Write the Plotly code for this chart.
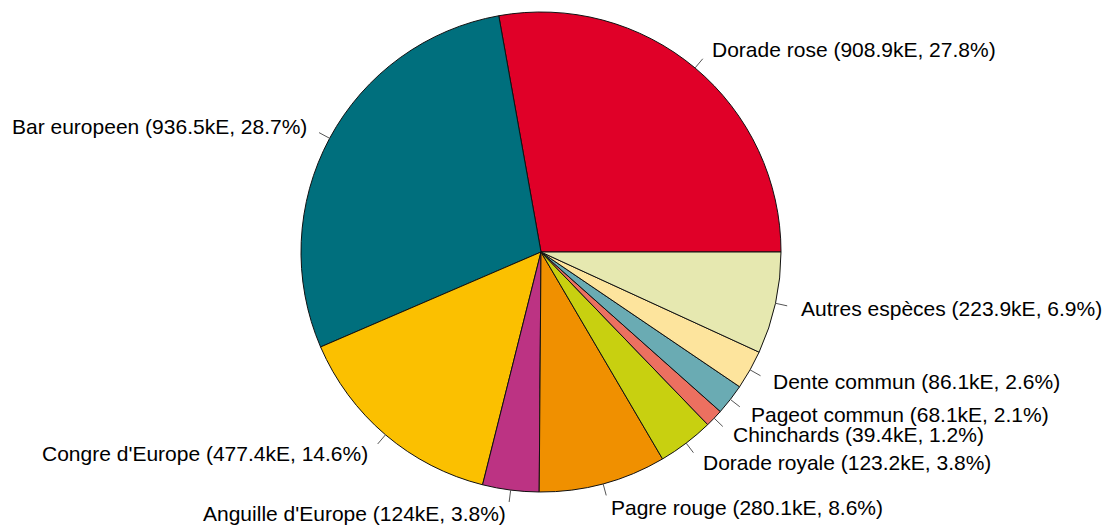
import math
import plotly.graph_objects as go

# species and values (kE), in R pie order (counter-clockwise from 3 o'clock)
especes = ["Dorade rose", "Bar europeen", "Congre d'Europe", "Anguille d'Europe",
           "Pagre rouge", "Dorade royale", "Chinchards", "Pageot commun",
           "Dente commun", "Autres espèces"]
valeurs = [908.9, 936.5, 477.4, 124, 280.1, 123.2, 39.4, 68.1, 86.1, 223.9]
couleurs = ["#E00028", "#006F7D", "#FBC000", "#BC3383", "#F09000",
            "#C8D010", "#EC7060", "#6AABB3", "#FDE49D", "#E6E8B0"]

W, H = 1112, 525
# page body has an 8px margin, so positions are shifted back by 8px
cx, cy, R = 533, 244, 240

total = sum(valeurs)
# plotly places the first slice clockwise from 'rotation' when counterclockwise,
# so shift it to make the first slice start at 3 o'clock like R
rot = 90 - 360 * valeurs[0] / total

fig = go.Figure(go.Pie(
    values=valeurs, labels=especes, sort=False, direction="counterclockwise",
    rotation=rot, marker=dict(colors=couleurs, line=dict(color="#111111", width=1)),
    textinfo="none", hoverinfo="label+value+percent", showlegend=False,
    domain=dict(x=[(cx - R) / W, (cx + R) / W], y=[(H - cy - R) / H, (H - cy + R) / H]),
))

# R-style labels: short tick from r to 1.05r, text at 1.1r
cum = 0
for nom, v in zip(especes, valeurs):
    a = 2 * math.pi * (cum + v / 2) / total
    cum += v
    c, s = math.cos(a), math.sin(a)
    fig.add_shape(type="line", xref="paper", yref="paper",
                  x0=(cx + R * c) / W, y0=(H - cy + R * s) / H,
                  x1=(cx + 1.05 * R * c) / W, y1=(H - cy + 1.05 * R * s) / H,
                  line=dict(color="#555555", width=1))
    texte = f"{nom} ({v:g}kE, {100 * v / total:.1f}%)"
    fig.add_annotation(x=(cx + 1.1 * R * c) / W, y=(H - cy + 1.1 * R * s) / H,
                       xref="paper", yref="paper", text=texte, showarrow=False,
                       xanchor="left" if c >= 0 else "right", yanchor="middle",
                       font=dict(family="Liberation Sans, Arial", size=21, color="#000000"))

fig.update_layout(width=W, height=H, margin=dict(l=0, r=0, t=0, b=0),
                  paper_bgcolor="white", plot_bgcolor="white")
fig.write_html("out.html")
